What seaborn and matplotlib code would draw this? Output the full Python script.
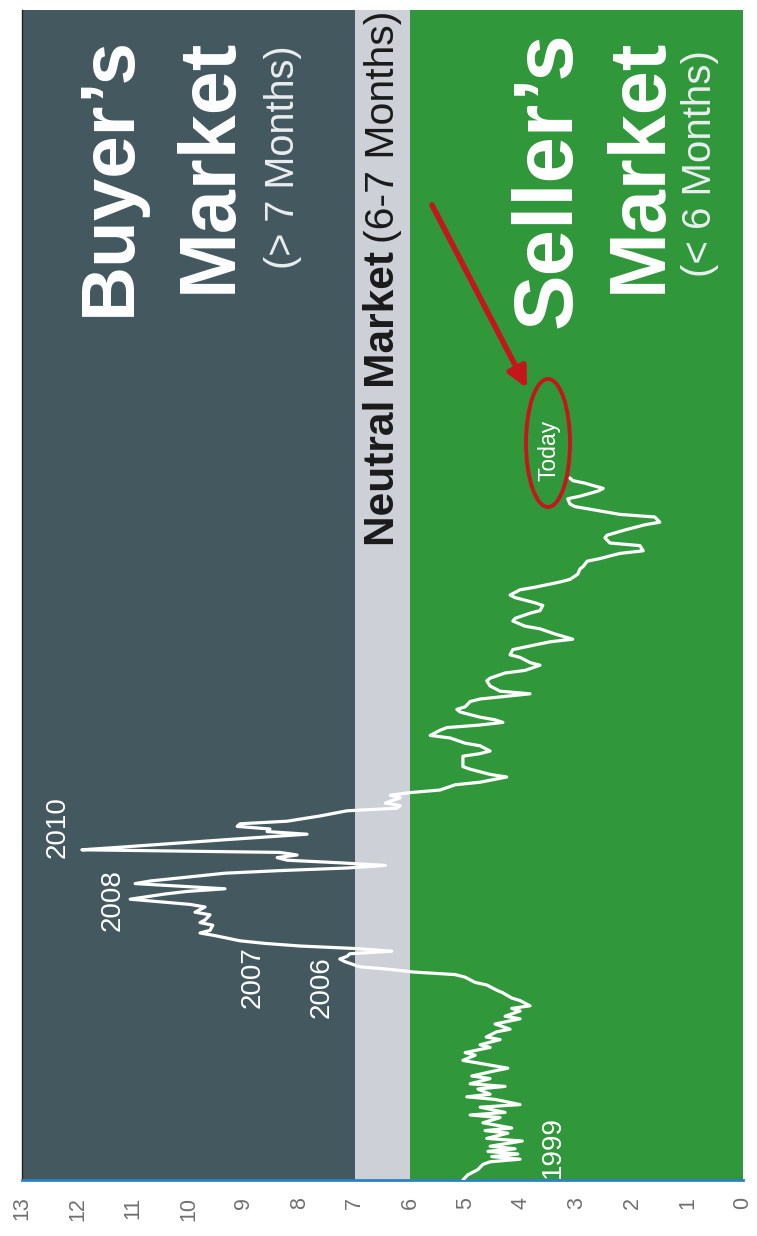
import matplotlib
matplotlib.use("Agg")
import matplotlib.pyplot as plt
import seaborn as sns
import pandas as pd
from matplotlib.patches import Ellipse

sns.set_theme(style="white")
plt.rcParams['font.family'] = ['Liberation Sans', 'DejaVu Sans']

# months since Jan 1999
month_index = [0, 2, 4, 6, 7, 8, 9, 10, 11, 12, 13, 15, 16, 18, 19, 20, 22, 24, 25, 26,
               28, 29, 31, 32, 33, 35, 36, 37, 39, 40, 42, 43, 45, 46, 48, 49, 51, 52, 54, 55,
               57, 58, 60, 62, 63, 65, 66, 67, 69, 70, 72, 73, 75, 76, 78, 79, 80, 81, 82, 84,
               85, 86, 87, 88, 89, 90, 91, 92, 94, 95, 96, 98, 99, 100, 102, 103, 105, 106, 107, 108,
               110, 111, 112, 113, 114, 115, 116, 118, 119, 120, 121, 122, 123, 124, 125, 126, 127, 128, 129, 131,
               133, 134, 135, 136, 137, 138, 140, 142, 143, 144, 145, 147, 148, 149, 150, 152, 153, 155, 156, 158,
               159, 161, 163, 164, 165, 167, 168, 170, 171, 173, 174, 175, 176, 177, 178, 180, 181, 182, 184, 185,
               186, 187, 188, 190, 192, 193, 195, 196, 198, 199, 201, 202, 204, 205, 207, 208, 210, 212, 213, 215,
               216, 218, 219, 221, 222, 224, 225, 227, 228, 230, 231, 233, 235, 236, 238, 239, 241, 242, 244, 245,
               247, 248, 250, 252, 253, 255, 256, 258, 259, 260, 262, 263, 265, 266, 268, 269, 270]
months_supply = [5.05, 4.96, 4.78, 4.69, 4.56, 4.02, 4.53, 4.06, 4.60, 4.11, 4.56, 3.98, 4.62, 4.24, 4.65, 4.17, 4.69, 4.38, 4.92, 4.29,
                 4.74, 4.02, 4.47, 4.98, 4.56, 4.78, 4.29, 4.92, 4.56, 4.89, 4.47, 4.24, 4.78, 5.05, 4.83, 5.01, 4.56, 4.74, 4.38, 4.63,
                 4.44, 4.20, 4.47, 4.02, 4.29, 4.02, 4.17, 3.84, 4.02, 4.17, 4.33, 4.44, 4.62, 4.83, 5.01, 5.19, 5.95, 6.36, 6.91, 7.18,
                 7.27, 7.14, 7.09, 6.33, 6.96, 7.99, 8.62, 9.07, 9.52, 9.79, 9.61, 9.56, 9.79, 9.70, 9.61, 9.88, 9.70, 9.97, 10.51, 11.05,
                 10.42, 10.02, 9.34, 10.15, 10.96, 10.69, 10.24, 9.34, 8.35, 7.14, 6.45, 7.27, 8.22, 8.40, 8.04, 8.35, 11.92, 11.23, 10.57, 9.25,
                 7.86, 8.58, 8.53, 9.12, 9.07, 8.22, 7.63, 7.14, 6.24, 6.18, 6.45, 6.18, 6.36, 6.00, 5.46, 5.19, 4.74, 4.26, 4.56, 4.92,
                 5.05, 5.05, 5.05, 4.74, 4.56, 4.74, 5.01, 5.28, 5.64, 5.46, 5.34, 4.74, 4.33, 4.47, 4.74, 5.10, 5.16, 5.01, 4.92, 4.74,
                 4.29, 3.84, 4.38, 4.56, 4.62, 4.56, 4.29, 3.93, 3.66, 3.84, 4.02, 4.20, 4.15, 3.93, 3.48, 3.07, 3.39, 3.66, 3.93, 4.15,
                 4.11, 3.84, 3.66, 3.61, 3.75, 4.11, 4.20, 4.02, 3.75, 3.30, 3.12, 2.98, 2.94, 2.88, 2.81, 2.58, 2.22, 1.80, 1.86, 2.40,
                 2.49, 2.45, 2.13, 1.77, 1.50, 1.59, 2.22, 2.76, 3.03, 3.12, 3.16, 2.94, 2.61, 2.52, 2.85, 3.07, 3.12]

value_ticks = list(range(0, 14))
band_limits = [(7, 13), (6, 7), (0, 6)]
band_colors = ['#44595f', '#cdd0d7', '#30983a']
year_labels = ['1999', '2006', '2007', '2008', '2010']
year_label_pos = [(0.736, 0.028), (0.416, 0.165), (0.320, 0.173), (0.126, 0.239), (0.049, 0.302)]

fig = plt.figure(figsize=(7.57, 12.36), dpi=100)
ax = fig.add_axes([22 / 757, 56 / 1236, 721 / 757, 1170 / 1236])
for (lo, hi), c in zip(band_limits, band_colors):
    ax.axvspan(lo, hi, color=c, lw=0, zorder=0)

df = pd.DataFrame({'month': month_index, 'mos': months_supply})
sns.lineplot(data=df, x='mos', y='month', sort=False, estimator=None,
             color='white', lw=2.3, ax=ax, zorder=3)
ax.set_xlim(13, 0)
ax.set_ylim(0, 450)
ax.set_xticks(value_ticks)
ax.set_xticklabels([str(v) for v in value_ticks], rotation=90, color='#707070', fontsize=15.5)
ax.tick_params(axis='x', length=0, pad=12)
ax.set_yticks([])
ax.set_xlabel('')
ax.set_ylabel('')
for s in ['top', 'right']:
    ax.spines[s].set_visible(False)
ax.spines['bottom'].set_color('#2f80c0')
ax.spines['bottom'].set_linewidth(2)
ax.spines['left'].set_color('#222222')
ax.spines['left'].set_linewidth(1)

T = ax.transAxes
# Buyer's market
ax.text(0.122, 0.978, "Buyer’s", transform=T, rotation=90, ha='center', va='top',
        color='white', fontsize=55, fontweight='bold')
ax.text(0.261, 0.976, "Market", transform=T, rotation=90, ha='center', va='top',
        color='white', fontsize=57, fontweight='bold')
ax.text(0.362, 0.970, "(> 7 Months)", transform=T, rotation=90, ha='center', va='top',
        color='#e9edf0', fontsize=28.5)
# Neutral
ax.text(0.5, 0.542, "Neutral Market", transform=T, rotation=90, ha='center', va='bottom',
        color='#1a1a1a', fontsize=30.5, fontweight='bold')
ax.text(0.5, 0.9995, "(6-7 Months)", transform=T, rotation=90, ha='center', va='top',
        color='#1a1a1a', fontsize=29.5)
# Seller's market
ax.text(0.730, 0.982, "Seller’s", transform=T, rotation=90, ha='center', va='top',
        color='white', fontsize=60, fontweight='bold')
ax.text(0.857, 0.976, "Market", transform=T, rotation=90, ha='center', va='top',
        color='white', fontsize=57, fontweight='bold')
ax.text(0.940, 0.966, "(< 6 Months)", transform=T, rotation=90, ha='center', va='top',
        color='#e9edf0', fontsize=29)

for lab, (fx, fy) in zip(year_labels, year_label_pos):
    ax.text(fx, fy, lab, transform=T, rotation=90, ha='center', va='center',
            color='white', fontsize=20)

# Today annotation
ax.text((549 - 22) / 721, (1180 - 450) / 1170, "Today", transform=T, rotation=90,
        ha='center', va='center', color='white', fontsize=16.5)
ax.add_patch(Ellipse(((548 - 22) / 721, (1180 - 443) / 1170), 44 / 721, 128 / 1170,
                     transform=T, fill=False, edgecolor='#c4161c', lw=2.8, zorder=5))
ax.annotate('', xy=((527 - 22) / 721, (1180 - 388) / 1170), xycoords=T,
            xytext=((432 - 22) / 721, (1180 - 205) / 1170), textcoords=T,
            arrowprops=dict(arrowstyle='-|>', color='#c4161c', lw=4, mutation_scale=30,
                            shrinkA=0, shrinkB=0), zorder=6)

fig.savefig('out.png', dpi=100)
